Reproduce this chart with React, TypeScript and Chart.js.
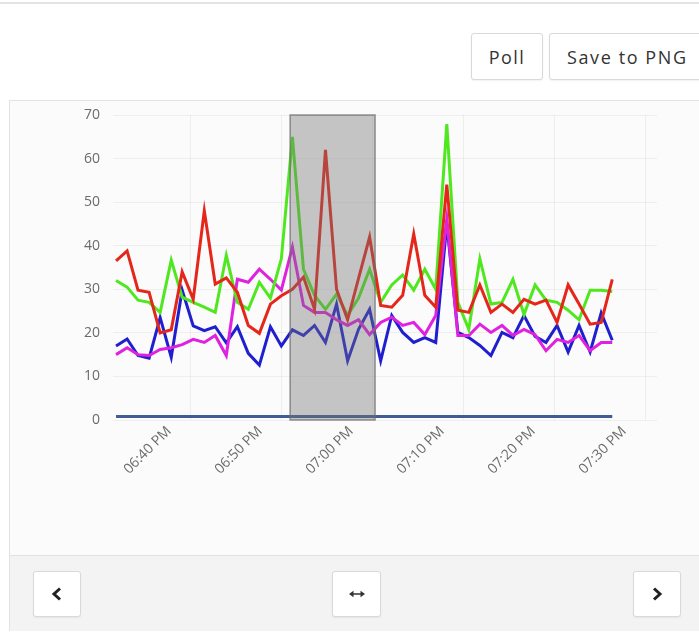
import React, { useEffect, useRef } from "react";
import { Chart, registerables } from "chart.js";

Chart.register(...registerables);

// ---- data ----
const sampleTimes = [
  "18:31:52", "18:33:05", "18:34:17", "18:35:30", "18:36:43", "18:37:56", "18:39:08", "18:40:21", "18:41:34", "18:42:46",
  "18:43:59", "18:45:12", "18:46:24", "18:47:37", "18:48:50", "18:50:02", "18:51:15", "18:52:28", "18:53:41", "18:54:53",
  "18:56:06", "18:57:19", "18:58:31", "18:59:44", "19:00:57", "19:02:10", "19:03:22", "19:04:35", "19:05:48", "19:07:00",
  "19:08:13", "19:09:26", "19:10:38", "19:11:51", "19:13:04", "19:14:17", "19:15:29", "19:16:42", "19:17:55", "19:19:07",
  "19:20:20", "19:21:33", "19:22:45", "19:23:58", "19:25:11", "19:26:24",
];

const redValues = [
  36.5, 38.8, 29.8, 29.3, 20, 20.7, 34, 27.7, 48, 31.2,
  32.6, 29.3, 21.7, 19.9, 26.6, 28.5, 30, 32.8, 25.4, 62,
  30, 23, 32.5, 42, 26.3, 25.9, 28.6, 42.7, 28.6, 25.9,
  54, 25.2, 24.7, 31, 24.7, 26.6, 24.7, 27.7, 26.6, 27.5,
  22.4, 31, 26.6, 22, 22.4, 32.3,
];

const greenValues = [
  32, 30.5, 27.5, 27, 24.7, 36.7, 28.2, 27, 25.9, 24.7,
  37.8, 27, 25.4, 31.6, 28, 37, 65, 34.6, 28.6, 25.4,
  28.9, 24, 28, 34.6, 27, 31, 33.3, 29.8, 34.6, 30,
  67.9, 27, 20.8, 37, 26.6, 27, 32.3, 24.2, 31, 27.5,
  27, 25.2, 23, 29.8, 29.8, 29.5,
];

const magentaValues = [
  15, 16.6, 15, 14.8, 16.2, 16.6, 17.3, 18.5, 17.8, 19.4,
  14.8, 32.3, 31.6, 34.6, 32.3, 29.8, 39.7, 26.3, 24.7, 24.7,
  23, 21.7, 23, 19.6, 22.4, 23.6, 21.7, 22.4, 19.6, 24,
  46.2, 19.4, 19.4, 22, 20.1, 21.7, 19.4, 20.8, 19.6, 15.9,
  18.5, 17.8, 19.4, 15.9, 17.8, 17.8,
];

const blueValues = [
  17, 18.6, 14.8, 14.2, 23.5, 14.4, 29.8, 21.6, 20.5, 21.4,
  17.7, 21.4, 15.3, 12.6, 21.4, 17, 20.7, 19.4, 21.7, 17.8,
  26.6, 13.6, 20.8, 25.4, 13.6, 24, 20.1, 17.8, 18.9, 17.8,
  45, 20.1, 18.9, 17.1, 14.8, 20.1, 18.9, 24, 19.2, 17.8,
  21.7, 15.6, 21.7, 15.6, 24.6, 18.3,
];

const baselineValues = [
  0.8, 0.8, 0.8, 0.8, 0.8, 0.8, 0.8, 0.8, 0.8, 0.8,
  0.8, 0.8, 0.8, 0.8, 0.8, 0.8, 0.8, 0.8, 0.8, 0.8,
  0.8, 0.8, 0.8, 0.8, 0.8, 0.8, 0.8, 0.8, 0.8, 0.8,
  0.8, 0.8, 0.8, 0.8, 0.8, 0.8, 0.8, 0.8, 0.8, 0.8,
  0.8, 0.8, 0.8, 0.8, 0.8, 0.8,
];

const xTickTimes = ["18:40", "18:50", "19:00", "19:10", "19:20", "19:30"];
const xAxisRange = ["18:31:32", "19:31:19"];
const yTickValues = [0, 10, 20, 30, 40, 50, 60, 70];
const yAxisRange = [0, 70];
const selectionRange = ["18:51:00", "19:00:20"];

// ---- helpers ----
function toMinutes(t: string): number {
  const parts = t.split(":").map(Number);
  return parts[0] * 60 + parts[1] + (parts[2] || 0) / 60;
}
function pad(n: number) {
  return n < 10 ? "0" + n : String(n);
}
function formatTime(v: number): string {
  const total = Math.round(v);
  const h = Math.floor(total / 60);
  const m = total % 60;
  const h12 = h % 12 === 0 ? 12 : h % 12;
  return `${pad(h12)}:${pad(m)} ${h >= 12 ? "PM" : "AM"}`;
}
function series(values: number[]) {
  return values.map((v, i) => ({ x: toMinutes(sampleTimes[i]), y: v }));
}

const selectionPlugin = {
  id: "selectionBox",
  afterDatasetsDraw(chart: any) {
    const { ctx, scales } = chart;
    const x0 = scales.x.getPixelForValue(toMinutes(selectionRange[0]));
    const x1 = scales.x.getPixelForValue(toMinutes(selectionRange[1]));
    const y0 = scales.y.getPixelForValue(yAxisRange[1]);
    const y1 = scales.y.getPixelForValue(yAxisRange[0]);
    ctx.save();
    ctx.fillStyle = "rgba(115,115,115,0.4)";
    ctx.fillRect(x0, y0, x1 - x0, y1 - y0);
    ctx.strokeStyle = "rgba(110,110,110,0.75)";
    ctx.lineWidth = 1.5;
    ctx.strokeRect(x0, y0, x1 - x0, y1 - y0);
    ctx.restore();
  },
};

const tickFont = { family: "'Open Sans', sans-serif", size: 14 };

function ChartPanel() {
  const ref = useRef<HTMLCanvasElement | null>(null);
  useEffect(() => {
    if (!ref.current) return;
    const chart = new Chart(ref.current, {
      type: "line",
      data: {
        datasets: [
          { data: series(redValues), borderColor: "#e5261a" },
          { data: series(greenValues), borderColor: "#4fe81f" },
          { data: series(magentaValues), borderColor: "#df22df" },
          { data: series(blueValues), borderColor: "#1f1fd0" },
          { data: series(baselineValues), borderColor: "#3f5d94" },
        ],
      },
      options: {
        animation: false,
        responsive: false,
        devicePixelRatio: 1,
        layout: { padding: { top: 14, right: 42, left: 0, bottom: 0 } },
        elements: {
          point: { radius: 0, hoverRadius: 0 },
          line: { borderWidth: 3, tension: 0, fill: false },
        },
        plugins: { legend: { display: false }, tooltip: { enabled: false } },
        scales: {
          x: {
            type: "linear",
            min: toMinutes(xAxisRange[0]),
            max: toMinutes(xAxisRange[1]),
            afterBuildTicks: (s: any) => {
              s.ticks = xTickTimes.map((t) => ({ value: toMinutes(t) }));
            },
            afterFit: (s: any) => {
              s.height = 135;
            },
            ticks: {
              autoSkip: false,
              minRotation: 45,
              maxRotation: 45,
              labelOffset: -21,
              padding: 3,
              color: "#6b6b6b",
              font: tickFont,
              callback: (v: any) => formatTime(Number(v)),
            },
            grid: { color: "rgba(0,0,0,0.05)", drawTicks: false },
            border: { display: false },
          },
          y: {
            min: yAxisRange[0],
            max: yAxisRange[1],
            afterBuildTicks: (s: any) => {
              s.ticks = yTickValues.map((v) => ({ value: v }));
            },
            afterFit: (s: any) => {
              s.width = 103;
            },
            ticks: { padding: 3, color: "#6b6b6b", font: tickFont },
            grid: {
              color: "rgba(0,0,0,0.05)",
              drawTicks: true,
              tickLength: 10,
              tickColor: "rgba(0,0,0,0)",
            },
            border: { display: false },
          },
        },
      },
      plugins: [selectionPlugin],
    });
    return () => chart.destroy();
  }, []);
  return (
    <canvas
      ref={ref}
      width={689}
      height={454}
      style={{ position: "absolute", left: 10, top: 101, width: 689, height: 454 }}
    />
  );
}

const btn: React.CSSProperties = {
  position: "absolute",
  boxSizing: "border-box",
  background: "#fff",
  border: "1px solid #d9d9d9",
  borderRadius: 3,
  boxShadow: "0 1px 2px rgba(0,0,0,0.06)",
  display: "flex",
  alignItems: "center",
  justifyContent: "center",
  color: "#333",
  fontFamily: "'Open Sans', sans-serif",
};

export default function App() {
  return (
    <div
      style={{
        position: "fixed",
        left: 0,
        top: 0,
        width: 699,
        height: 632,
        overflow: "hidden",
        background: "#fff",
        fontFamily: "'Open Sans', sans-serif",
      }}
    >
      <div style={{ position: "absolute", left: 0, top: 2, width: 699, height: 2, background: "#e4e4e4" }} />
      <div style={{ ...btn, left: 471, top: 33, width: 72, height: 47, fontSize: 18, letterSpacing: 1.5 }}>Poll</div>
      <div
        style={{
          ...btn,
          left: 549,
          top: 33,
          width: 160,
          height: 47,
          fontSize: 18,
          letterSpacing: 1.6,
          justifyContent: "flex-start",
          paddingLeft: 17,
        }}
      >
        Save to PNG
      </div>
      <div
        style={{
          position: "absolute",
          left: 9,
          top: 100,
          width: 700,
          height: 531,
          boxSizing: "border-box",
          border: "1px solid #e3e3e3",
          background: "#fbfbfb",
        }}
      />
      <ChartPanel />
      <div
        style={{
          position: "absolute",
          left: 10,
          top: 555,
          width: 699,
          height: 75,
          background: "#f3f3f3",
          borderTop: "1px solid #e2e2e2",
        }}
      />
      <div style={{ ...btn, left: 33, top: 571, width: 48, height: 46 }}>
        <svg width="12" height="14" viewBox="0 0 12 14">
          <polyline points="9,1.5 3,7 9,12.5" fill="none" stroke="#222" strokeWidth="3" />
        </svg>
      </div>
      <div style={{ ...btn, left: 332, top: 571, width: 49, height: 46 }}>
        <svg width="16" height="8" viewBox="0 0 16 8">
          <line x1="3" y1="4" x2="13" y2="4" stroke="#333" strokeWidth="1.5" />
          <polygon points="0,4 4.5,0.8 4.5,7.2" fill="#333" />
          <polygon points="16,4 11.5,0.8 11.5,7.2" fill="#333" />
        </svg>
      </div>
      <div style={{ ...btn, left: 633, top: 571, width: 48, height: 46 }}>
        <svg width="12" height="14" viewBox="0 0 12 14">
          <polyline points="3,1.5 9,7 3,12.5" fill="none" stroke="#222" strokeWidth="3" />
        </svg>
      </div>
    </div>
  );
}
